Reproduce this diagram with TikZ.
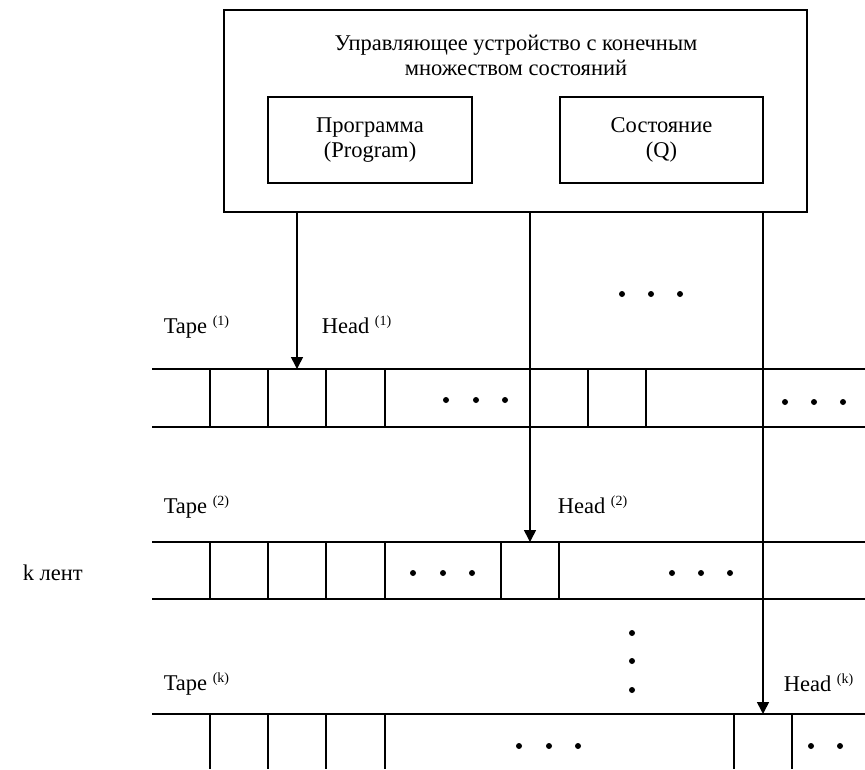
\documentclass[tikz,border=0pt]{standalone}
\usepackage{fontspec}
\setmainfont{Liberation Serif}
\usetikzlibrary{arrows.meta}
\tikzset{
  box/.style={draw, line width=1.6pt, align=center, inner sep=0pt},
  lbl/.style={anchor=base west, inner sep=0pt},
  head/.style={-{Triangle[length=12pt,width=12pt]}, line width=1.6pt},
}
\newcommand{\idx}[1]{\raisebox{8pt}{\fontsize{14}{14}\selectfont(#1)}}

\begin{document}
\begin{tikzpicture}[x=1pt,y=-1pt,line width=1.6pt,font=\fontsize{22.5}{25}\selectfont]
      \useasboundingbox (0,0) rectangle (865,769);
      \node[box, minimum width=583pt, minimum height=202pt] (ctrl) at (515.5,111) {};
      \node[align=center, inner sep=0pt] (title) at (516,55) {Управляющее устройство с конечным\\множеством состояний};
      \node[box, minimum width=204pt, minimum height=86pt] (prog) at (370,140) {Программа\\(Program)};
      \node[box, minimum width=203pt, minimum height=86pt] (state) at (661.5,140) {Состояние\\(Q)};
      % tapes
      \foreach \y in {369,427,542,599,714} \draw (152,\y) -- (865,\y);
      \foreach \x in {210,268,326,385,588,646} \draw (\x,369) -- (\x,427);
      \foreach \x in {210,268,326,385,501,559} \draw (\x,542) -- (\x,599);
      \foreach \x in {210,268,326,385,734,792} \draw (\x,714) -- (\x,769);
      \foreach \x/\y in {446/400,476/400,505/400,785/402,814/402,843/402,
                        413/573,443/573,472/573,672/573,701/573,730/573,
                        519/746,549/746,578/746,811/746,840/746,
                        622/294,651/294,680/294,632/633,632/661,632/690}
        \fill (\x,\y) circle (3pt);
      % heads
      \coordinate (h1) at (297,369);
      \coordinate (h2) at (530,542);
      \coordinate (hk) at (763,714);
      \draw[head] (ctrl.south -| h1) -- (h1);
      \draw[head] (ctrl.south -| h2) -- (h2);
      \draw[head] (ctrl.south -| hk) -- (hk);
      \node[lbl] (tape1) at (163,333) {Tape \idx{1}};
      \node[lbl] (head1) at (321,333) {Head \idx{1}};
      \node[lbl] (tape2) at (163,513) {Tape \idx{2}};
      \node[lbl] (head2) at (557,513) {Head \idx{2}};
      \node[lbl] (tapek) at (163,690) {Tape \idx{k}};
      \node[lbl] (headk) at (783,691) {Head \idx{k}};
      \node[lbl] (klent) at (22,580) {k лент};
    \end{tikzpicture}
\end{document}
